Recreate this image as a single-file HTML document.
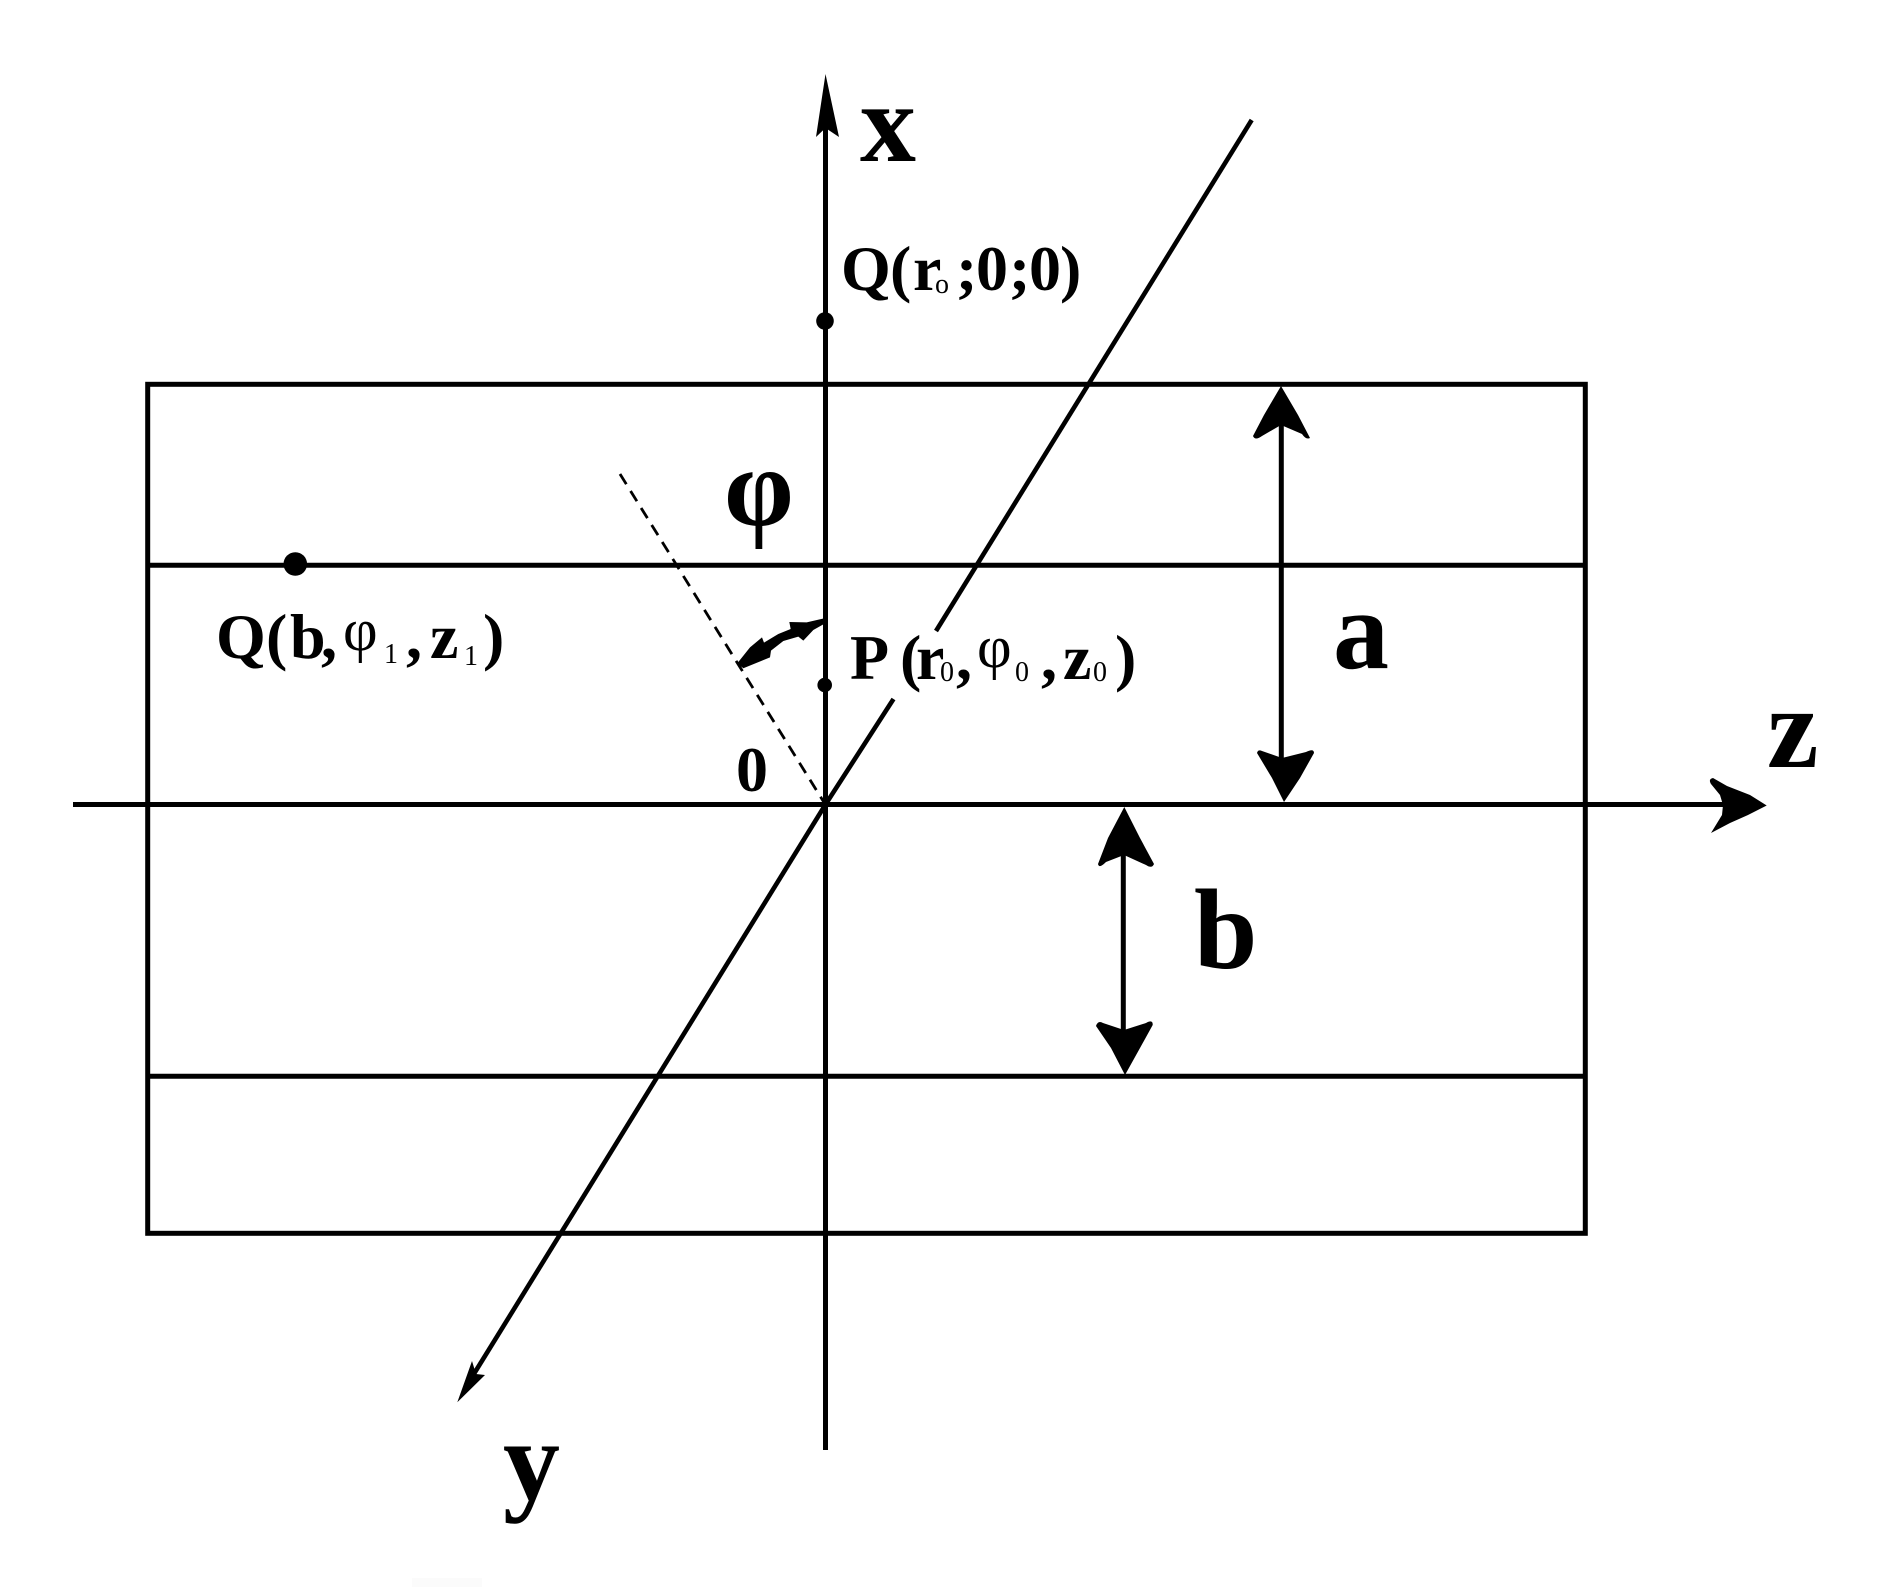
<!DOCTYPE html>
<html>
<head>
<meta charset="utf-8">
<style>
html,body{margin:0;padding:0;background:#fff;width:1893px;height:1587px;overflow:hidden}
svg{display:block}
text{font-family:"Liberation Serif",serif;fill:#000}
.b{font-weight:bold;font-size:64px}
.s{font-weight:normal;font-size:28px}
.p{font-weight:normal;font-size:60px}
.L{font-weight:bold;font-size:116px}
</style>
</head>
<body>
<svg width="1893" height="1587" viewBox="0 0 1893 1587" xmlns="http://www.w3.org/2000/svg">
<rect width="1893" height="1587" fill="#fff"/>
<rect x="412" y="1578" width="70" height="9" fill="#fbfbfb"/>
<g fill="none" stroke="#000" stroke-width="5">
<rect x="147.7" y="384.3" width="1437.6" height="849"/>
<line x1="147" y1="565.3" x2="1585" y2="565.3"/>
<line x1="147" y1="1076.3" x2="1585" y2="1076.3"/>
<line x1="73" y1="804.5" x2="1725" y2="804.5"/>
<line x1="825.5" y1="125" x2="825.5" y2="1450"/>
<line x1="1281.3" y1="420" x2="1281.3" y2="765"/>
<line x1="1123.3" y1="850" x2="1123.3" y2="1035"/>
<line x1="1251.7" y1="120" x2="936" y2="631" stroke-width="4.6"/>
<line x1="893.5" y1="699" x2="825.5" y2="804.5" stroke-width="4.6"/>
<line x1="825.5" y1="804.5" x2="472" y2="1377" stroke-width="4.6"/>
<line x1="620" y1="474" x2="825" y2="804" stroke-width="2.8" stroke-dasharray="12 8"/>
</g>
<g fill="#000">
<path d="M825.5 74 L839 137 L825.5 128 L816 137 Z"/>
<path d="M1766.7 805.5 L1748 815 L1730 823 L1711 833 L1722 815 L1723 805 L1720 795 L1711 784 Q1708 779 1713 778 L1727 786 L1750 795 Z"/>
<path d="M457.3 1402.3 L472 1361 L476 1374 L485 1375 Z"/>
<path d="M1281 386 L1298 415 L1310 438 Q1306 440 1302 434 L1281 425 L1262 436 Q1255 441 1253 436 L1264 415 Z"/>
<path d="M1284 802 L1272 778 L1257 753 Q1258 749 1262 751 L1282 758 L1306 752 Q1314 748 1314 753 L1300 778 Z"/>
<path d="M1124.3 807 L1140 838 L1154 864 Q1152 869 1146 865 L1124 855 L1106 862 Q1099 869 1098 864 L1108 838 Z"/>
<path d="M1125 1075 L1111 1048 L1096 1026 Q1098 1020 1103 1023 L1124 1030 L1146 1023 Q1153 1019 1152.7 1025 L1140 1048 Z"/>
<circle cx="825" cy="321" r="8.8"/>
<circle cx="824.7" cy="685" r="7.3"/>
<circle cx="295.3" cy="564" r="11.8"/>
<path transform="translate(700 450) scale(.3333)" d="M372 505 L320 517 L268 516 L272 537 L235 552 L192 578 L186 562 L150 592 L112 640 L130 655 L210 622 L213 602 L250 573 L295 560 L310 572 L340 540 L372 522 Z"/>
</g>

<text class="L" x="860" y="161" style="font-size:112px">x</text>
<text class="L" x="1333" y="668" style="font-size:112px">a</text>
<text class="L" x="1767" y="767" font-size="112">z</text>
<text class="L" x="1194" y="968" style="font-size:114px">b</text>
<text class="L" x="503" y="1499" style="font-size:114px">y</text>
<text class="L" x="724" y="525" style="font-size:112px">φ</text>
<text class="b" x="736" y="791">0</text>

<text><tspan class="b" x="841" y="290">Q</tspan><tspan class="b" x="890" y="290">(</tspan><tspan class="b" x="913" y="290">r</tspan><tspan class="s" x="935" y="293">o</tspan><tspan class="b" x="956" y="290">;</tspan><tspan class="b" x="976" y="290">0</tspan><tspan class="b" x="1009" y="290">;</tspan><tspan class="b" x="1029" y="290">0</tspan><tspan class="b" x="1060" y="290">)</tspan></text>

<text><tspan class="b" x="216" y="658">Q</tspan><tspan class="b" x="266" y="658">(</tspan><tspan class="b" x="290" y="658">b</tspan><tspan class="b" x="321" y="658">,</tspan><tspan class="p" x="343" y="650">φ</tspan><tspan class="s" x="384" y="663">1</tspan><tspan class="b" x="406" y="658">,</tspan><tspan class="b" x="430" y="658">z</tspan><tspan class="s" x="464" y="665">1</tspan><tspan class="b" x="483" y="658">)</tspan></text>

<text><tspan class="b" x="850" y="679">P</tspan><tspan class="b" x="900" y="679">(</tspan><tspan class="b" x="916" y="679">r</tspan><tspan class="s" x="940" y="681">0</tspan><tspan class="b" x="956" y="679">,</tspan><tspan class="p" x="977" y="667">φ</tspan><tspan class="s" x="1015" y="681">0</tspan><tspan class="b" x="1041" y="679">,</tspan><tspan class="b" x="1063" y="679">z</tspan><tspan class="s" x="1093" y="681">0</tspan><tspan class="b" x="1115" y="679">)</tspan></text>
</svg>
</body>
</html>
